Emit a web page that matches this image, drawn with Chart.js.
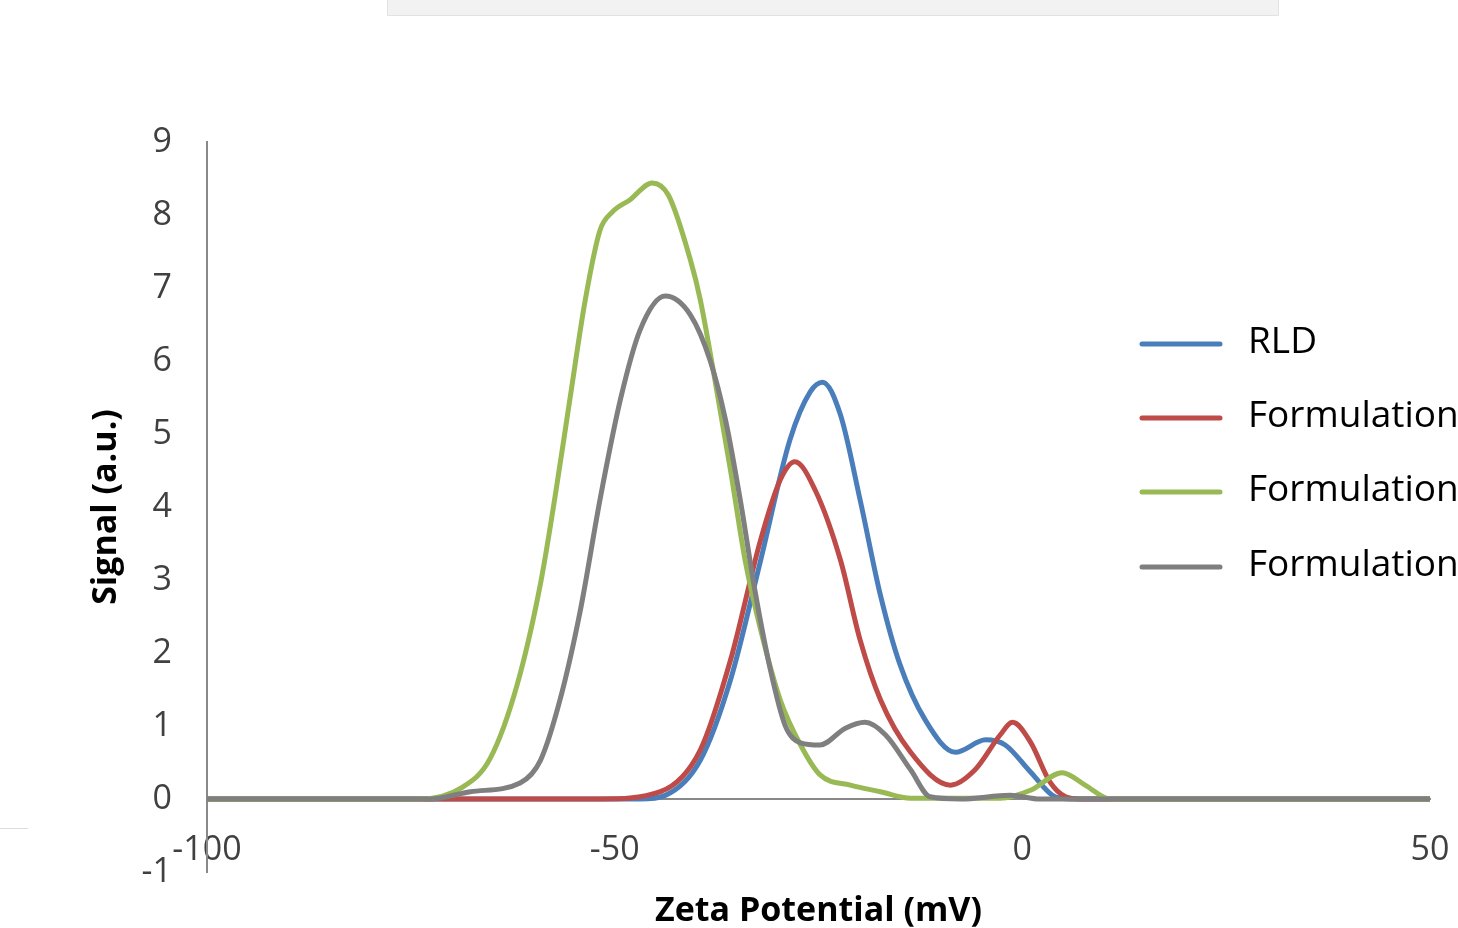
<!DOCTYPE html>
<html><head><meta charset="utf-8">
<script src="https://cdn.jsdelivr.net/npm/chart.js@4/dist/chart.umd.min.js"></script>
<style>html,body{margin:0;padding:0;background:#fff;overflow:hidden}canvas{display:block}</style>
</head><body>
<canvas id="c" width="1458" height="928"></canvas>
<script>
const xTickValues = [-100, -50, 0, 50];
const yTickValues = [-1, 0, 1, 2, 3, 4, 5, 6, 7, 8, 9];
const seriesNames = ["RLD", "Formulation", "Formulation", "Formulation"];
const xAxisTitle = "Zeta Potential (mV)";
const yAxisTitle = "Signal (a.u.)";

const rldX = [-100, -46.9, -43.8, -39.5, -35.8, -32.1, -28.5, -26.0, -24.5, -22.3, -19.9, -17.4, -15.0, -11.9, -8.2, -4.5, -2.1, 1.0, 4.0, 5.9, 50];
const rldY = [0, 0, 0.05, 0.53, 1.63, 3.27, 4.92, 5.58, 5.71, 5.26, 4.10, 2.79, 1.84, 1.08, 0.64, 0.81, 0.74, 0.37, 0.03, 0, 0];

const f1X = [-100, -51.8, -44.4, -39.5, -35.8, -32.1, -29.7, -27.9, -25.4, -22.3, -19.9, -17.4, -13.7, -8.8, -5.8, -2.7, -1.2, 1.0, 3.4, 5.3, 7.1, 50];
const f1Y = [0, 0, 0.10, 0.67, 1.90, 3.55, 4.37, 4.62, 4.23, 3.27, 2.18, 1.36, 0.64, 0.19, 0.40, 0.88, 1.05, 0.78, 0.23, 0.03, 0, 0];

const f2X = [-100, -73.9, -68.7, -65.3, -62.0, -59.1, -57.3, -55.5, -53.6, -51.8, -50.3, -48.1, -45.4, -43.4, -40.7, -39.5, -37.7, -35.8, -34.0, -32.1, -29.7, -27.2, -24.8, -21.1, -17.4, -13.7, -2.7, 1.0, 4.9, 7.7, 10.8, 50];
const f2Y = [0, 0, 0.16, 0.55, 1.55, 2.95, 4.15, 5.47, 6.84, 7.79, 8.04, 8.21, 8.44, 8.27, 7.38, 6.84, 5.74, 4.51, 3.27, 2.32, 1.36, 0.74, 0.33, 0.19, 0.10, 0.01, 0.01, 0.12, 0.36, 0.19, 0, 0];

const f3X = [-100, -72.6, -67.7, -61.6, -59.1, -56.7, -54.2, -51.8, -49.3, -46.9, -43.8, -40.7, -38.3, -36.4, -34.6, -32.8, -30.9, -29.1, -27.2, -24.8, -21.7, -19.3, -16.8, -13.7, -11.3, -7.6, -1.5, 2.2, 50];
const f3Y = [0, 0, 0.10, 0.22, 0.53, 1.36, 2.59, 4.10, 5.47, 6.42, 6.89, 6.63, 6.01, 5.19, 4.10, 2.86, 1.77, 1.01, 0.77, 0.74, 0.97, 1.05, 0.88, 0.40, 0.03, 0, 0.05, 0, 0];

const colors = ["#4a7ebb", "#be4b48", "#98b954", "#7f7f7f"];

function pts(xs, ys) { return xs.map((x, i) => ({x: x, y: ys[i]})); }

const allX = [rldX, f1X, f2X, f3X];
const allY = [rldY, f1Y, f2Y, f3Y];
const orders = [3, 2, 1, 0];

const datasets = seriesNames.map((name, i) => ({
  label: name,
  data: pts(allX[i], allY[i]),
  borderColor: colors[i],
  backgroundColor: colors[i],
  borderWidth: 5,
  showLine: true,
  pointRadius: 0,
  cubicInterpolationMode: 'monotone',
  order: orders[i]
}));

const decorPlugin = {
  id: 'decor',
  beforeDraw(chart) {
    const ctx = chart.ctx;
    ctx.save();
    ctx.fillStyle = '#fff';
    ctx.fillRect(0, 0, chart.width, chart.height);
    ctx.fillStyle = '#f2f2f2';
    ctx.fillRect(387, 0, 892, 15);
    ctx.strokeStyle = '#e2e2e2';
    ctx.lineWidth = 1;
    ctx.beginPath();
    ctx.moveTo(387.5, 0); ctx.lineTo(387.5, 15.5); ctx.lineTo(1278.5, 15.5); ctx.lineTo(1278.5, 0);
    ctx.stroke();
    ctx.strokeStyle = '#dcdcdc';
    ctx.beginPath(); ctx.moveTo(0, 828.5); ctx.lineTo(28, 828.5); ctx.stroke();
    ctx.restore();
  },
  afterDraw(chart) {
    const ctx = chart.ctx;
    const ys = [344, 418, 492, 567];
    ctx.save();
    chart.data.datasets.forEach((ds, i) => {
      ctx.strokeStyle = ds.borderColor;
      ctx.lineWidth = 5;
      ctx.lineCap = 'round';
      ctx.beginPath(); ctx.moveTo(1142, ys[i]); ctx.lineTo(1220, ys[i]); ctx.stroke();
      ctx.fillStyle = '#000';
      ctx.font = '37px "Open Sans"';
      ctx.textBaseline = 'middle';
      ctx.textAlign = 'left';
      ctx.fillText(ds.label, 1248, ys[i] - 2);
    });
    ctx.restore();
  }
};

new Chart(document.getElementById('c'), {
  type: 'scatter',
  data: { datasets },
  plugins: [decorPlugin],
  options: {
    responsive: false,
    animation: false,
    devicePixelRatio: 1,
    layout: { padding: { left: 0, top: 142, right: 28, bottom: 56 } },
    plugins: { legend: { display: false }, tooltip: { enabled: false } },
    scales: {
      x: {
        type: 'linear',
        position: { y: 0 },
        min: -100, max: 50,
        afterBuildTicks: (s) => { s.ticks = xTickValues.map(v => ({value: v})); },
        afterFit: (s) => { s.height = 56; s.paddingLeft = 0; s.paddingRight = 0; s.paddingTop = 0; s.paddingBottom = 0; },
        grid: { display: false, drawTicks: false },
        border: { display: true, color: '#898989', width: 2 },
        ticks: { padding: 31, color: '#404040', font: { family: 'Open Sans', size: 34 }, maxRotation: 0, autoSkip: false },
        title: { display: true, text: xAxisTitle, color: '#000', font: { family: 'Open Sans', size: 34, weight: 'bold' }, padding: { top: 0, bottom: -77 } }
      },
      y: {
        type: 'linear',
        position: 'left',
        min: -1, max: 9,
        afterBuildTicks: (s) => { s.ticks = yTickValues.map(v => ({value: v})); },
        afterFit: (s) => { s.width = 207; s.paddingTop = 0; s.paddingBottom = 0; },
        grid: { display: false, drawTicks: false },
        border: { display: true, color: '#898989', width: 2 },
        ticks: { padding: 35, color: '#404040', font: { family: 'Open Sans', size: 34 }, autoSkip: false },
        title: { display: true, text: yAxisTitle, color: '#000', font: { family: 'Open Sans', size: 34, weight: 'bold' }, padding: { top: 86, bottom: 0 } }
      }
    }
  }
});
</script>
</body></html>
